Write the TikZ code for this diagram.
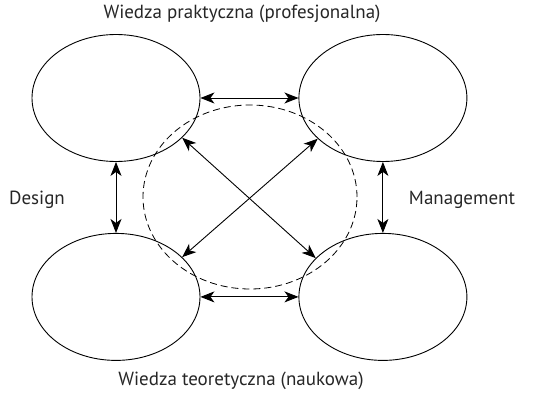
\documentclass[tikz,border=0pt]{standalone}
\usepackage{fontspec}
\setmainfont{PT Sans}
\usepackage{tikz}
\usetikzlibrary{arrows.meta,positioning,shapes.geometric}

\begin{document}
\begin{tikzpicture}[
  x=1pt,y=-1pt,
  font=\fontsize{19}{22}\selectfont,
  blob/.style={ellipse,draw,line width=0.9pt,minimum width=168pt,minimum height=127pt,inner sep=0pt},
  ring/.style={ellipse,draw,dash pattern=on 7pt off 4pt,line width=0.8pt,minimum width=214pt,minimum height=184pt,inner sep=0pt},
  tip/.tip={Stealth[length=14pt,width=11pt,inset=4pt]},
  arr/.style={tip-tip,line width=0.9pt}
]
\useasboundingbox (0,0) rectangle (541,393);

\node[ring] (core) at (250,197) {};

\node[blob] (tl) at (116,98) {};
\node[blob,right=98pt of tl] (tr) {};
\node[blob,below=71pt of tl] (bl) {};
\node[blob,below=71pt of tr] (br) {};

\node[text=black!85] (prak) at (242,14) {Wiedza praktyczna (profesjonalna)};
\node[text=black!85] (teor) at (241,381) {Wiedza teoretyczna (naukowa)};
\node[text=black!85] (des) at (37,200) {Design};
\node[text=black!85] (man) at (462,200) {Management};

\draw[arr] (tl.east) -- (tr.west);
\draw[arr] (bl.east) -- (br.west);
\draw[arr] (tl.south) -- (bl.north);
\draw[arr] (tr.south) -- (br.north);
\draw[arr] (tl.-31) -- (br.150);
\draw[arr] (bl.31) -- (tr.-148);
\end{tikzpicture}
\end{document}
